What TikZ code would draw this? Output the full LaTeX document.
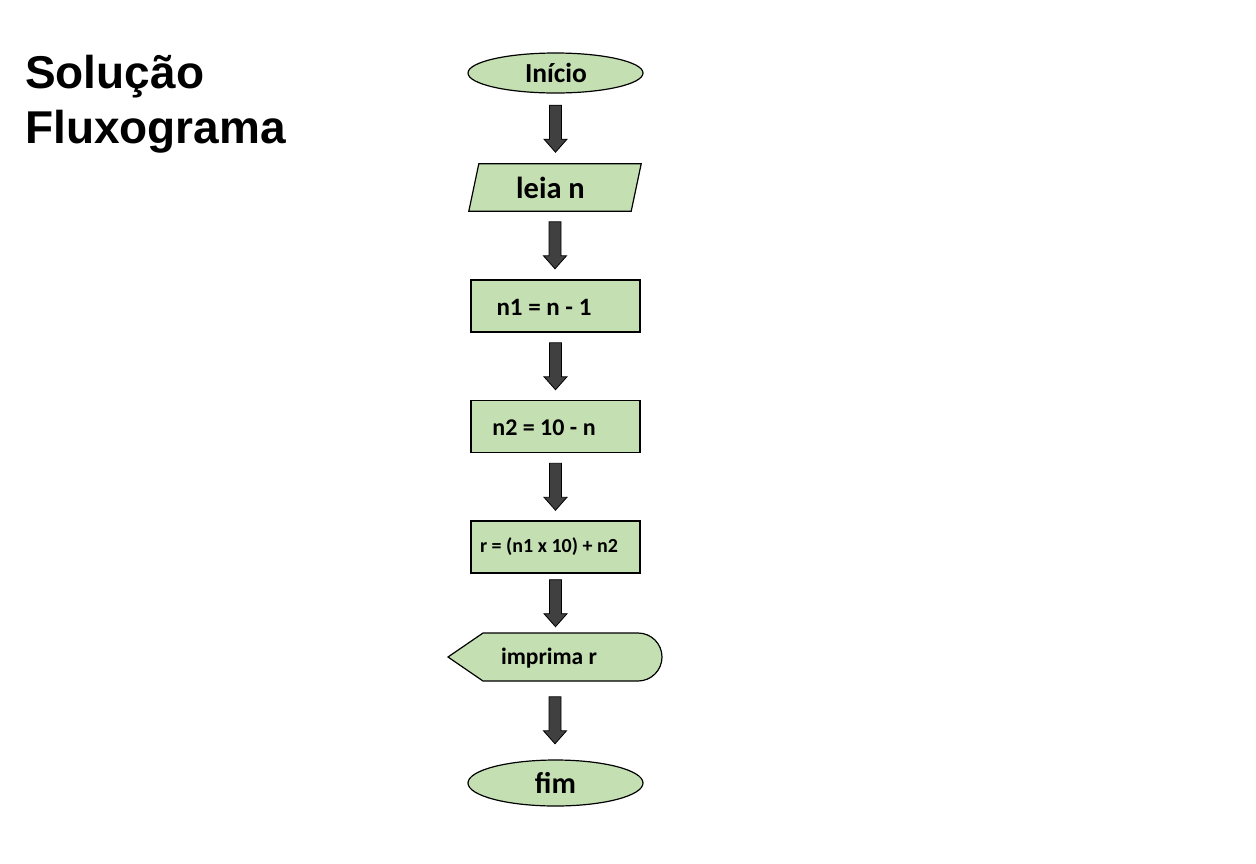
\documentclass[tikz,border=0pt]{standalone}
\usepackage{fontspec}
\setmainfont{Carlito}
\newfontfamily\arialf{Liberation Sans}
\usetikzlibrary{shapes.geometric,calc}
\definecolor{boxgreen}{HTML}{C4DFB1}
\definecolor{arrowgray}{HTML}{404040}
\tikzset{
  shapebox/.style={draw=black, fill=boxgreen, line width=1.2pt},
  procbox/.style={shapebox, rectangle, minimum width=169pt, minimum height=52pt, inner sep=0pt},
  termbox/.style={shapebox, ellipse, minimum width=175pt, minimum height=40pt, inner sep=0pt},
  holder/.style={rectangle, inner sep=0pt},
  lbl/.style={inner sep=0pt, text=black},
  barrow/.style={draw=black, fill=arrowgray, line width=0.8pt, line join=miter},
  titletext/.style={anchor=base west, inner sep=0pt, font=\arialf\bfseries\fontsize{46}{46}\selectfont}
}
% block arrow of fixed length 47, centred in the gap between two nodes
\newcommand\flowarr[2]{\draw[barrow] let \p1=(#1.south), \p2=(#2.north), \n1={(\y1+\y2)/2} in
  (\x1-6pt,\n1+23.5pt) -- (\x1+6pt,\n1+23.5pt) -- (\x1+6pt,\n1-10.5pt) -- (\x1+11.5pt,\n1-10.5pt)
  -- (\x1,\n1-23.5pt) -- (\x1-11.5pt,\n1-10.5pt) -- (\x1-6pt,\n1-10.5pt) -- cycle;}
\begin{document}
\begin{tikzpicture}[x=1pt,y=-1pt]
\useasboundingbox[fill=white] (0,0) rectangle (1256,863);

% title
\node[titletext] (t1) at (25,88) {Solução};
\node[titletext] (t2) at (25,143) {Fluxograma};

% shapes
\node[termbox] (ini) at (555.5,73) {};
\node[holder, minimum width=172pt, minimum height=47pt] (leia) at (555,187.5) {};
\draw[shapebox] (leia.south west) -- ($(leia.north west)+(10,0)$) -- (leia.north east) -- ($(leia.south east)+(-10,0)$) -- cycle;
\node[procbox] (n1) at (555.5,306) {};
\node[procbox] (n2) at (555.5,426.5) {};
\node[procbox] (r) at (555.5,547) {};
\node[holder, minimum width=214pt, minimum height=48pt] (imp) at (555,657) {};
\draw[shapebox] (448,657) -- (483,633) -- (638,633) .. controls (651.25,633) and (662,643.75) .. (662,657)
  .. controls (662,670.25) and (651.25,681) .. (638,681) -- (483,681) -- cycle;
\node[termbox, minimum height=46pt] (fim) at (555.5,783) {};

% labels
\node[lbl, font=\bfseries\fontsize{27.5}{27.5}\selectfont] (iniT) at (556,73) {Início};
\node[lbl, font=\bfseries\fontsize{30.5}{30.5}\selectfont] (leiaT) at (550.5,188) {leia n};
\node[lbl, font=\bfseries\fontsize{25}{25}\selectfont] (n1T) at (544,307) {n1 = n - 1};
\node[lbl, font=\bfseries\fontsize{24}{24}\selectfont] (n2T) at (544,428) {n2 = 10 - n};
\node[lbl, font=\bfseries\fontsize{20}{20}\selectfont] (rT) at (549,547) {r = (n1 x 10) + n2};
\node[lbl, font=\bfseries\fontsize{23.5}{23.5}\selectfont] (impT) at (549,658) {imprima r};
\node[lbl, font=\bfseries\fontsize{30}{30}\selectfont] (fimT) at (555.5,783) {fim};

% arrows
\flowarr{ini}{leia}
\flowarr{leia}{n1}
\flowarr{n1}{n2}
\flowarr{n2}{r}
\flowarr{r}{imp}
\flowarr{imp}{fim}
\end{tikzpicture}
\end{document}
